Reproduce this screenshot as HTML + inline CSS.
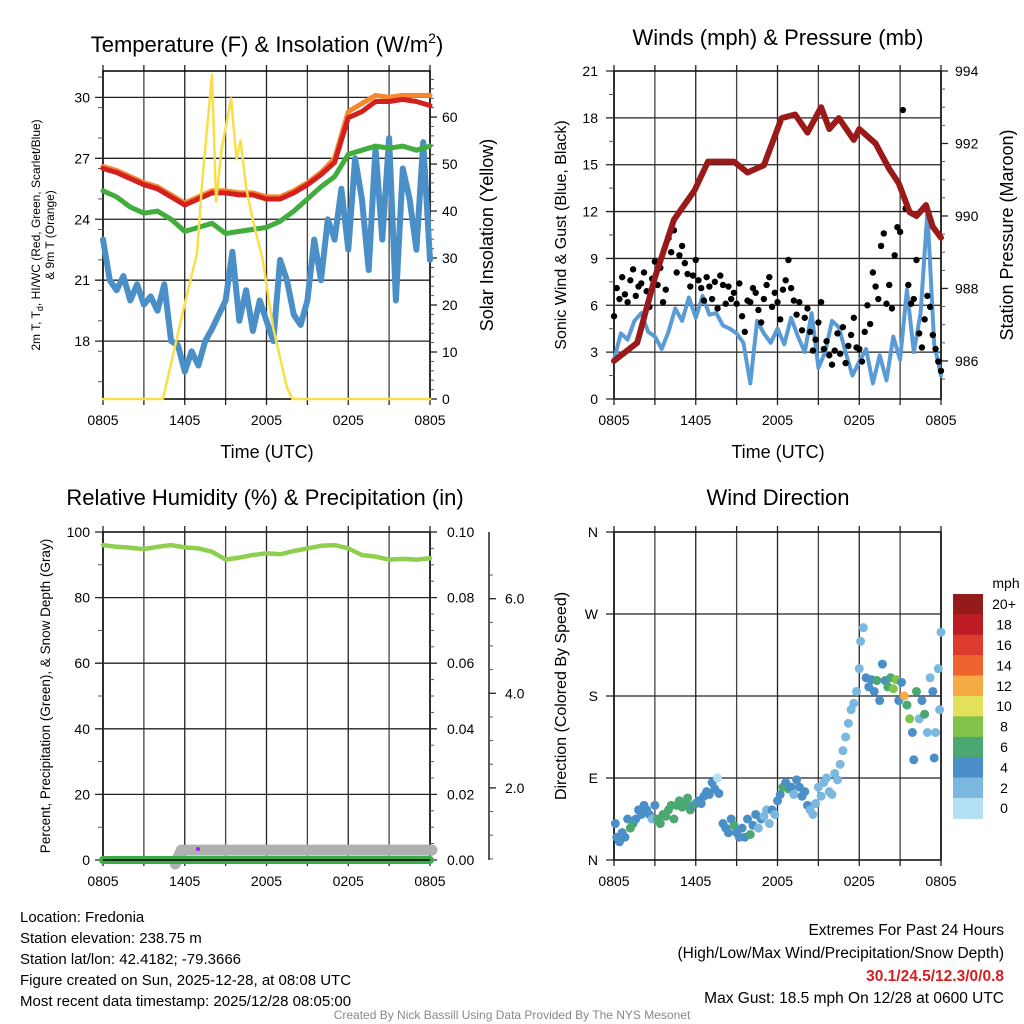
<!DOCTYPE html>
<html><head><meta charset="utf-8">
<style>
html,body{margin:0;padding:0;background:#fff;}
svg{display:block;font-family:"Liberation Sans",Arial,sans-serif;}
</style></head>
<body>
<svg id="s" width="1024" height="1024" viewBox="0 0 1024 1024">
<g font-size="22" text-anchor="middle" fill="#000">
<text x="267" y="52">Temperature (F) &amp; Insolation (W/m<tspan font-size="14" dy="-9">2</tspan><tspan dy="9">)</tspan></text>
<text x="778" y="45">Winds (mph) &amp; Pressure (mb)</text>
<text x="265" y="505">Relative Humidity (%) &amp; Precipitation (in)</text>
<text x="778" y="505">Wind Direction</text>
</g>
<g font-size="18" text-anchor="middle">
<text x="267" y="458">Time (UTC)</text>
<text x="778" y="458">Time (UTC)</text>
<text transform="translate(493,235) rotate(-90)">Solar Insolation (Yellow)</text>
<text transform="translate(1013,235) rotate(-90)">Station Pressure (Maroon)</text>
</g>
<g font-size="16" text-anchor="middle">
<text transform="translate(566,235) rotate(-90)">Sonic Wind &amp; Gust (Blue, Black)</text>
<text transform="translate(566,696) rotate(-90)">Direction (Colored By Speed)</text>
</g>
<g font-size="12" text-anchor="middle">
<text transform="translate(40,235) rotate(-90)">2m T, T<tspan font-size="9" dy="3">d</tspan><tspan dy="-3">, HI/WC (Red, Green, Scarlet/Blue)</tspan></text>
<text transform="translate(54,235) rotate(-90)">&amp; 9m T (Orange)</text>
</g>
<text transform="translate(50,696) rotate(-90)" font-size="13.5" text-anchor="middle">Percent, Precipitation (Green), &amp; Snow Depth (Gray)</text>
<g id="plots"></g>
<g font-size="15" fill="#000">
<text x="20" y="922">Location: Fredonia</text>
<text x="20" y="943">Station elevation: 238.75 m</text>
<text x="20" y="964">Station lat/lon: 42.4182; -79.3666</text>
<text x="20" y="985">Figure created on Sun, 2025-12-28, at 08:08 UTC</text>
<text x="20" y="1006">Most recent data timestamp: 2025/12/28 08:05:00</text>
</g>
<g font-size="15.5" text-anchor="end">
<text x="1004" y="935">Extremes For Past 24 Hours</text>
<text x="1004" y="958">(High/Low/Max Wind/Precipitation/Snow Depth)</text>
<text x="1004" y="981" fill="#d42020" font-weight="bold">30.1/24.5/12.3/0/0.8</text>
<text x="1004" y="1003">Max Gust: 18.5 mph On 12/28 at 0600 UTC</text>
</g>
<text x="512" y="1019" font-size="12" fill="#888" text-anchor="middle">Created By Nick Bassill Using Data Provided By The NYS Mesonet</text>
</svg>
<script>
// ---- data ----
const hours = [0,1,2,3,4,5,6,7,8,9,10,11,12,13,14,15,16,17,18,19,20,21,22,23,24];
const xTickLabels = ["0805","1405","2005","0205","0805"];
const tempRed = [26.5,26.3,26.0,25.7,25.5,25.1,24.7,25.0,25.3,25.3,25.2,25.2,25.0,25.0,25.3,25.7,26.2,26.8,29.0,29.3,29.8,29.8,29.9,29.8,29.6];
const temp9m = [26.6,26.4,26.1,25.8,25.6,25.2,24.8,25.1,25.4,25.4,25.3,25.3,25.1,25.1,25.4,25.8,26.3,27.0,29.3,29.7,30.1,30.0,30.1,30.1,30.1];
const dewGreen = [25.4,25.1,24.6,24.3,24.4,24.0,23.4,23.6,23.8,23.3,23.4,23.5,23.6,23.9,24.4,25.0,25.6,26.1,27.2,27.4,27.6,27.5,27.6,27.4,27.6];
const windChill = [23.0,21.0,20.5,21.2,20.0,20.8,19.8,20.2,19.5,20.8,18.0,17.8,16.5,17.5,16.8,18.0,18.6,19.3,20.0,22.4,19.0,20.5,18.5,20.0,19.0,18.0,22.0,21.0,19.3,18.8,20.0,23.0,21.0,24.0,23.0,25.5,22.5,27.0,25.0,21.5,27.5,23.0,28.0,20.0,26.5,25.0,22.5,27.8,22.0];
const solarTimes = [0,4.4,5.9,6.9,7.3,8.0,8.3,8.7,9.4,9.8,10.1,10.5,11.0,11.7,12.5,13.5,13.9,24];
const solarValues = [0,0,19,31,47,69,42,53,64,51,55,45,38,30,15,2.5,0,0];
const pressTimes = [0,1.7,3.0,4.4,5.9,6.9,8.8,9.8,11,12.3,13.3,14.2,15.2,15.8,16.5,17.6,18,19.2,20.2,20.9,21.7,22.2,22.9,23.4,24];
const pressValues = [986.0,986.5,988.3,989.9,990.7,991.5,991.5,991.2,991.4,992.7,992.8,992.3,993.0,992.4,992.7,992.1,992.4,992.0,991.3,990.9,990.1,990.0,990.3,989.7,989.4];
const windSpeed = [2.5,4.2,3.8,5.0,5.5,4.3,4.0,3.2,4.3,5.8,5.0,6.5,5.2,6.6,5.4,5.5,4.7,4.5,4.2,3.6,1.0,5.0,4.2,3.6,4.5,3.5,5.2,4.0,3.0,5.5,2.0,3.0,5.0,4.6,3.0,1.5,2.4,3.2,1.0,2.8,1.2,4.0,2.5,7.0,3.0,5.5,12.0,3.5,1.5];
const gusts = [5.3,7.1,6.4,7.8,6.7, 6.2,7.6,8.3,6.6,7.2, 7.4,8.1,6.9,5.9,7.7, 8.8,7.3,8.4,6.2,7.0, 10.3,9.4,10.8,8.1,9.2, 9.8,8.7,8.0,7.2,7.9, 8.9,7.6,7.1,6.3,7.8, 7.2,6.4,7.5,5.8,7.9, 7.3,6.1,7.2,6.4,6.8, 6.1,7.4,5.3,4.3,6.3, 6.2,7.1,6.8,5.7,4.9, 6.4,7.3,7.8,5.9,6.8, 6.2,5.1,7.0,7.6,8.9, 7.1,6.3,5.4,6.2,4.4, 5.2,5.8,4.3,3.1,3.8, 4.9,6.2,3.2,3.7,2.8, 2.2,3.1,4.2,2.9,4.6, 2.3,3.4,4.1,5.2,3.3, 3.2,2.4,4.3,6.0,4.8, 8.1,7.2,6.4,9.8,10.6, 6.1,7.3,5.8,9.2,11.0, 10.7,18.5,12.2,7.3,6.1, 6.4,8.9,4.2,3.3,5.1, 6.6,5.9,4.1,3.2,2.4, 1.8];
const rhValues = [96,95.5,95.2,94.8,95.5,96,95.3,95,94,91.6,92.2,93,93.5,93.2,94.2,95,95.8,96,95,93,92.5,91.6,91.8,91.6,92];
const snowStart = 5.6;
const snowDepth = 3;
const dirTimes = [0.1,0.2,0.4,0.6,0.8,1.0,1.2,1.4,1.6,1.8,2.0,2.2,2.4,2.6,2.8,3.0,3.2,3.4,3.6,3.8,4.0,4.2,4.4,4.6,4.8,5.0,5.2,5.4,5.6,5.8,6.0,6.2,6.4,6.6,6.8,7.0,7.2,7.4,7.6,7.7,8.0,8.2,8.4,8.6,8.8,9.0,9.2,9.4,9.6,9.8,10.0,10.2,10.4,10.6,10.8,11.0,11.2,11.4,11.6,11.8,12.0,12.2,12.4,12.6,12.8,13.0,13.2,13.4,13.6,13.8,14.0,14.2,14.4,14.6,14.8,15.0,15.2,15.4,15.6,15.8,16.0,16.2,16.4,16.6,16.8,17.0,17.2,17.4,17.6,17.8,18.0,18.1,18.3,18.5,18.7,18.9,19.1,19.3,19.5,19.7,19.9,20.1,20.3,20.5,20.7,20.9,21.1,21.3,21.5,21.7,21.9,22.0,22.2,22.4,22.6,22.8,23.0,23.2,23.4,23.6,23.8,24.0,23.9,23.5];
const dirValues = [40,25,20,30,25,45,35,40,45,55,50,60,55,50,45,60,45,40,50,48,55,60,45,60,65,58,62,68,55,60,62,65,62,70,75,72,85,78,90,73,40,35,30,45,38,30,25,35,25,45,28,38,50,35,45,48,55,40,55,50,65,72,80,85,78,80,72,88,80,70,75,60,55,50,62,80,70,85,90,75,72,95,88,105,120,135,150,165,172,185,210,240,255,200,190,198,185,197,175,215,197,190,200,188,198,175,195,180,170,155,140,110,185,155,175,160,140,200,185,140,210,250,165,112];
const dirSpeeds = [4,4,4,4,4,5,6,6,5,4,5,5,4,4,3,5,6,6,6,7,6,6,7,6,7,6,6,6,6,5,6,5,4,4,4,4,4,4,1,4,4,4,4,4,6,4,4,4,4,4,6,4,4,3,4,3,3,3,4,3,4,4,6,5,6,4,3,4,4,4,4,4,3,2,3,3,3,3,3,3,2,2,3,3,3,3,3,2,3,2,2,2,3,4,5,4,4,7,5,4,5,7,6,8,8,4,4,12,6,8,4,4,6,3,4,6,3,3,4,3,2,2,2,4];
const compassLabels = ["N","E","S","W","N"];
const cbarLabels = ["20+","18","16","14","12","10","8","6","4","2","0"];
const cbarColors = ["#951a1c","#bd1c24","#de3b2f","#ee6430","#f6aa45","#e3e05a","#82c34a","#4aa870","#4a8fc7","#7ab8e0","#b3e0f5"];

// ---- helpers ----
const NS="http://www.w3.org/2000/svg";
const root=document.getElementById('plots');
function mk(tag,attrs,parent){const e=document.createElementNS(NS,tag);for(const k in attrs)e.setAttribute(k,attrs[k]);(parent||root).appendChild(e);return e;}
function txt(x,y,s,anchor,size,parent){const e=mk('text',{x:x,y:y,'text-anchor':anchor,'font-size':size},parent);e.textContent=s;return e;}
function poly(pts,color,w,name){const e=mk('polyline',{points:pts.map(p=>p[0].toFixed(1)+','+p[1].toFixed(1)).join(' '),fill:'none',stroke:color,'stroke-width':w,'stroke-linejoin':'round','stroke-linecap':'round'});


return e;}
function panel(x0,y0,w,h){
  for(let i=0;i<=8;i++){const x=x0+w*i/8;const l=mk('line',{x1:x,y1:y0,x2:x,y2:y0+h,stroke:i%2?'#444':'#222','stroke-width':1.3});
  
  
  mk('line',{x1:x,y1:y0+h,x2:x,y2:y0+h+6,stroke:'#222','stroke-width':1.3});mk('line',{x1:x,y1:y0,x2:x,y2:y0-6,stroke:'#222','stroke-width':1.3});}
  const b=mk('rect',{x:x0,y:y0,width:w,height:h,fill:'none',stroke:'#000','stroke-width':1.5});
  
  
  for(let i=0;i<xTickLabels.length;i++){const t=txt(x0+w*i/4,y0+h+26,xTickLabels[i],'middle',14);
  
  }
}
function hgrid(x0,w,y,label,lx,anchor){const l=mk('line',{x1:x0-8,y1:y,x2:x0+w,y2:y,stroke:'#222','stroke-width':1.3});


if(label!==null){const t=txt(lx,y+5,label,anchor,14);

}}
function minor(x,y,dir,len){mk('line',{x1:x,y1:y,x2:x+dir*len,y2:y,stroke:'#555','stroke-width':1});}

// ---- Panel 1: temperature ----
(function(){
const x0=103,y0=71,w=327,h=328;
const X=t=>x0+t/24*w, Y=v=>y0+h-(v-15.15)/(31.3-15.15)*h, Ys=v=>y0+h-v/69.8*h;
panel(x0,y0,w,h);
for(let v=18;v<=30;v+=3)hgrid(x0,w,Y(v),String(v),90,'end');
for(let v=16;v<=31;v+=1.5)minor(x0,Y(v),-1,5);
for(let v=0;v<=60;v+=10){mk('line',{x1:x0+w,y1:Ys(v),x2:x0+w+7,y2:Ys(v),stroke:'#222','stroke-width':1.3});const t=txt(x0+w+12,Ys(v)+5,String(v),'start',14);

}
for(let v=2;v<=68;v+=2)if(v%10)minor(x0+w,Ys(v),1,4);
poly(windChill.map((v,i)=>[X(i*0.5),Y(v)]),'#4a8fc7',6,'wind-chill-line');
poly(dewGreen.map((v,i)=>[X(hours[i]),Y(v)]),'#41ad3c',5,'dewpoint-line');
poly(temp9m.map((v,i)=>[X(hours[i]),Y(v)]),'#f5872d',5,'temp-9m-line');
poly(tempRed.map((v,i)=>[X(hours[i]),Y(v)]),'#d3201f',5,'temp-2m-line');
poly(solarValues.map((v,i)=>[X(solarTimes[i]),Ys(v)]),'#f8df4a',2.5,'insolation-line');
})();

// ---- Panel 2: winds ----
(function(){
const x0=614,y0=71,w=327,h=328;
const X=t=>x0+t/24*w, Y=v=>y0+h-v/21*h, Yp=v=>y0+h-(v-984.95)/(994-984.95)*h;
panel(x0,y0,w,h);
for(let v=0;v<=21;v+=3)hgrid(x0,w,Y(v),String(v),598,'end');
for(let v=1.5;v<21;v+=3)minor(x0,Y(v),-1,5);
for(let v=986;v<=994;v+=2){mk('line',{x1:x0+w,y1:Yp(v),x2:x0+w+7,y2:Yp(v),stroke:'#222','stroke-width':1.3});const t=txt(x0+w+14,Yp(v)+5,String(v),'start',14);

}
for(let v=985.5;v<994;v+=0.5)if(v%2)minor(x0+w,Yp(v),1,4);
poly(windSpeed.map((v,i)=>[X(i*0.5),Y(v)]),'#5b9bd5',4,'wind-speed-line');
gusts.forEach((v,i)=>{const c=mk('circle',{cx:X(i*0.2),cy:Y(v),r:3.2,fill:'#000'});

});
poly(pressValues.map((v,i)=>[X(pressTimes[i]),Yp(v)]),'#9a1a1a',6,'pressure-line');
})();

// ---- Panel 3: RH ----
(function(){
const x0=103,y0=532,w=327,h=328;
const X=t=>x0+t/24*w, Y=v=>y0+h-v/100*h;
panel(x0,y0,w,h);
for(let v=0;v<=100;v+=20)hgrid(x0,w,Y(v),String(v),90,'end');
for(let v=10;v<100;v+=20)minor(x0,Y(v),-1,5);
for(let v=0;v<=100;v+=20){mk('line',{x1:x0+w,y1:Y(v),x2:x0+w+7,y2:Y(v),stroke:'#222','stroke-width':1.3});const t=txt(x0+w+17,Y(v)+5,(v/1000).toFixed(2),'start',14);

}
for(let v=5;v<100;v+=5)if(v%20)minor(x0+w,Y(v),1,4);
const ax=489;
const sa=mk('line',{x1:ax,y1:y0,x2:ax,y2:y0+h,stroke:'#222','stroke-width':1.5});


const Ysn=v=>882.5-v*47.3;
[2,4,6].forEach(v=>{mk('line',{x1:ax,y1:Ysn(v),x2:ax+7,y2:Ysn(v),stroke:'#222','stroke-width':1.3});const t=txt(ax+16,Ysn(v)+5,v.toFixed(1),'start',14);

});
for(let v=0.5;v<=6.8;v+=0.5)if(v%2)if(Ysn(v)<y0+h)minor(ax,Ysn(v),1,4);
const sp=mk('path',{d:`M${X(snowStart)-4},${Y(0)+4} L${X(snowStart)+2},${Y(snowDepth)} L${X(24)+2},${Y(snowDepth)}`,fill:'none',stroke:'#b0b0b0','stroke-width':11,'stroke-linecap':'round','stroke-linejoin':'round'});


poly([[X(0),Y(0)],[X(24),Y(0)]],'#3dab45',8,'precip-line');
mk('line',{x1:x0,y1:y0+h,x2:x0+w,y2:y0+h,stroke:'#000','stroke-width':1.5});
const pd=mk('circle',{cx:198,cy:849,r:2,fill:'#a020f0'});


poly(rhValues.map((v,i)=>[X(hours[i]),Y(v)]),'#8ecf50',4.5,'rh-line');
})();

// ---- Panel 4: wind direction ----
(function(){
const x0=614,y0=532,w=327,h=328;
const X=t=>x0+t/24*w, Y=d=>y0+h-d/360*h;
panel(x0,y0,w,h);
compassLabels.forEach((s,i)=>hgrid(x0,w,Y(i*90),s,598,'end'));
const colorFor=s=>cbarColors[10-Math.min(10,Math.floor(s/2))];
dirValues.forEach((d,i)=>{const c=mk('circle',{cx:X(dirTimes[i]),cy:Y(d),r:4.5,fill:colorFor(dirSpeeds[i])});

});
const bx=953,by=594,bh=20.4;
const t=txt(1006,588,'mph','middle',14);


cbarColors.forEach((c,i)=>{const r=mk('rect',{x:bx,y:by+i*bh,width:30,height:bh+0.5,fill:c});


const l=txt(1004,by+i*bh+bh/2+5,cbarLabels[i],'middle',14);

});
})();
</script>
</body></html>
